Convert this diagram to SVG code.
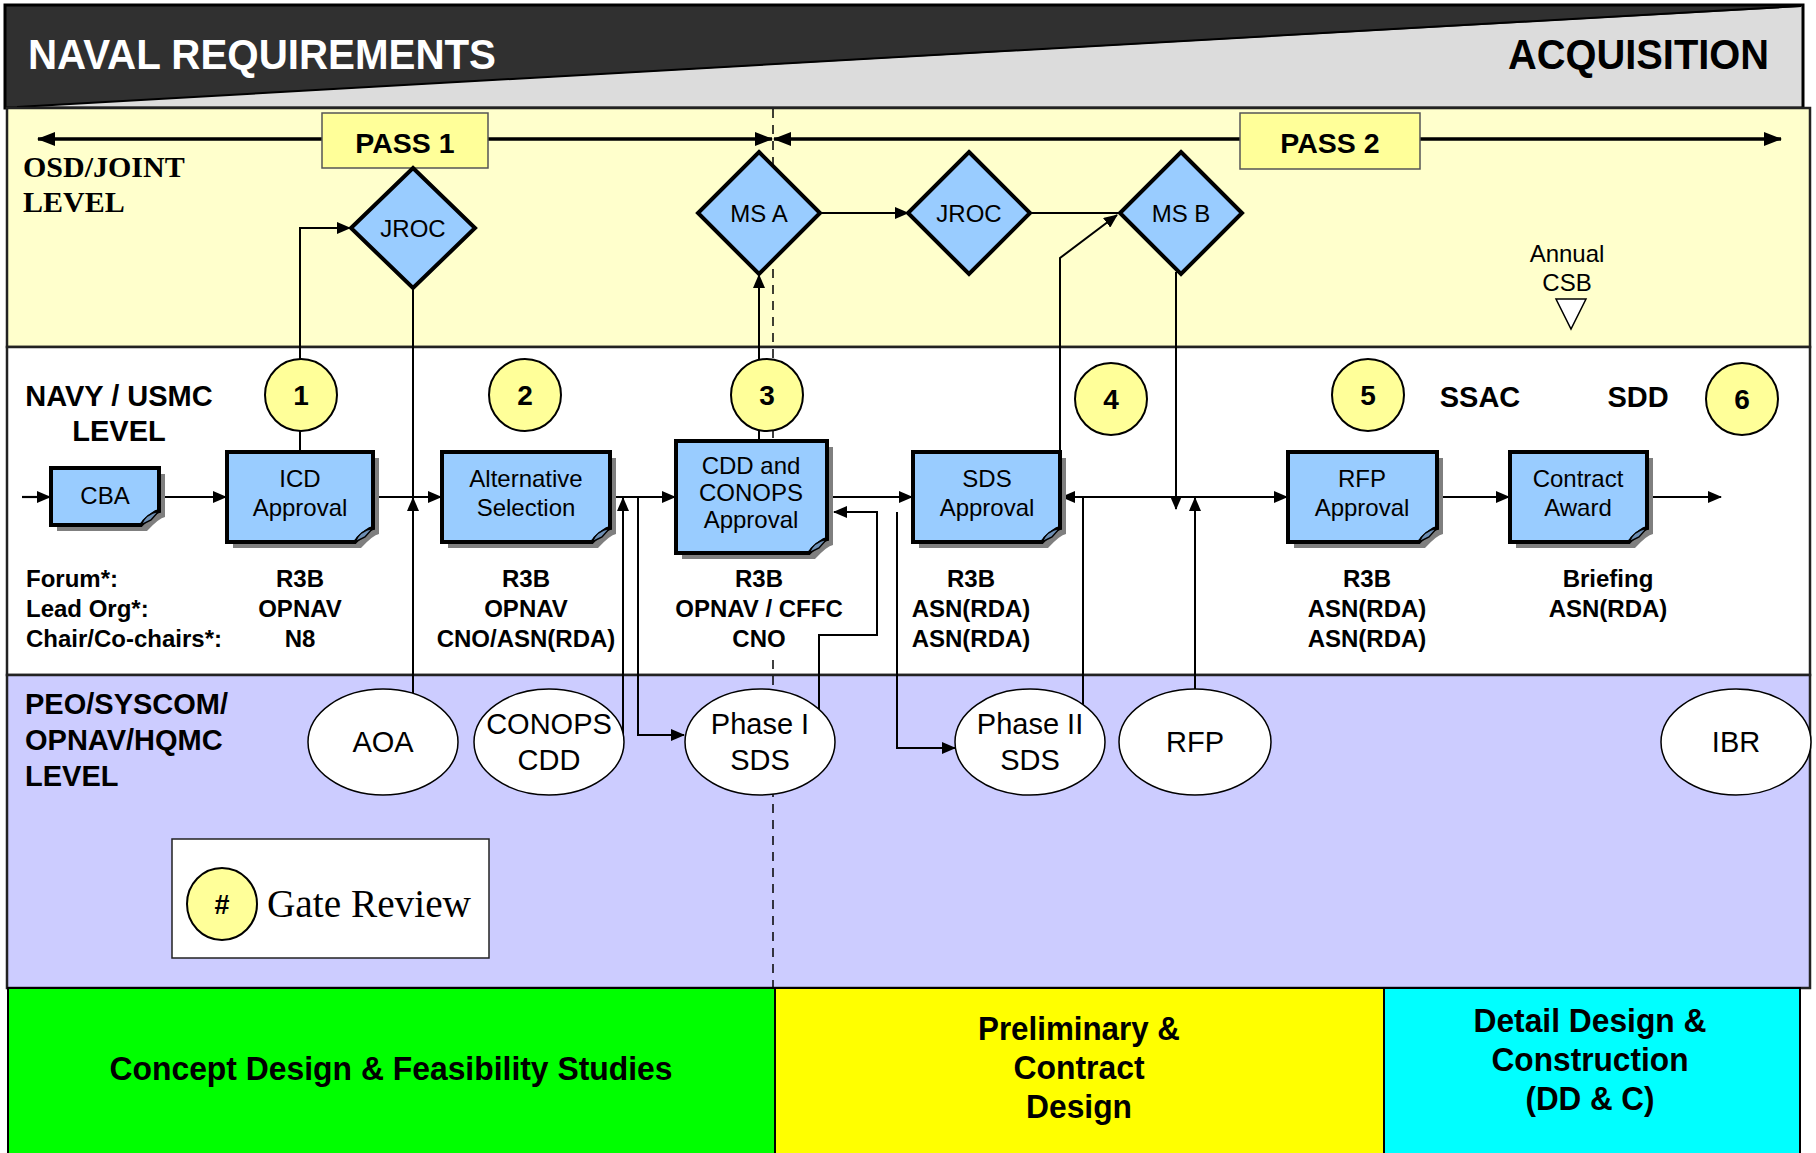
<svg xmlns="http://www.w3.org/2000/svg" width="1816" height="1153" viewBox="0 0 1816 1153">
<style>
.s{font-family:"Liberation Sans",Arial,sans-serif}
.b{font-weight:bold}
.box{fill:#99CCFF;stroke:#000;stroke-width:4;stroke-linejoin:miter}
.sh{fill:#7f7f7f}
.fold{fill:#6d8fb5;stroke:#000;stroke-width:1.5}
.dia{fill:#99CCFF;stroke:#000;stroke-width:4;stroke-linejoin:miter}
.gate{fill:#FFFF99;stroke:#000;stroke-width:2}
.ell{fill:#fff;stroke:#000;stroke-width:1.5}
.c{fill:none;stroke:#000;stroke-width:2}
.cf{fill:none;stroke:#000;stroke-width:2.2}
.pass{fill:none;stroke:#000;stroke-width:3.5}
.dash{stroke:#000;stroke-width:1.5;stroke-dasharray:9,7}
.bt{font-size:24px;text-anchor:middle}
.lb{font-size:24px;font-weight:bold;text-anchor:middle}
.et{font-size:29px;text-anchor:middle}
.gt{font-size:28px;font-weight:bold;text-anchor:middle}
.bot{font-size:33px;font-weight:bold;text-anchor:middle}
</style>
<defs>
<marker id="ah" markerUnits="userSpaceOnUse" markerWidth="14" markerHeight="12" refX="13" refY="6" orient="auto-start-reverse"><path d="M0,0 L14,6 L0,12 Z" fill="#000"/></marker>
<marker id="bh" markerUnits="userSpaceOnUse" markerWidth="18" markerHeight="14" refX="17" refY="7" orient="auto"><path d="M0,0 L18,7 L0,14 Z" fill="#000"/></marker>
</defs>

<!-- Bands -->
<g id="bands">
<rect x="5" y="5" width="1798" height="103" fill="#dcdcdc"/>
<polygon points="5,5 1801,5 1801,7 17,107 5,107" fill="#303030"/>
<line x1="17" y1="107" x2="1801" y2="6" stroke="#000" stroke-width="2"/>
<rect x="5" y="5" width="1798" height="103" fill="none" stroke="#000" stroke-width="3"/>
<rect x="7" y="108" width="1803" height="239" fill="#FFFFCC" stroke="#222" stroke-width="2.5"/>
<rect x="7" y="347" width="1803" height="328" fill="#ffffff" stroke="#222" stroke-width="2.5"/>
<rect x="7" y="675" width="1803" height="313" fill="#CCCCFF" stroke="#222" stroke-width="2.5"/>
<rect x="8" y="988" width="767" height="170" fill="#00FF00" stroke="#000" stroke-width="2"/>
<rect x="775" y="988" width="609" height="170" fill="#FFFF00" stroke="#000" stroke-width="2"/>
<rect x="1384" y="988" width="416" height="170" fill="#00FFFF" stroke="#000" stroke-width="2"/>
</g>

<g id="titles" class="s b">
<text x="28" y="69" font-size="42" fill="#fff" textLength="468" lengthAdjust="spacingAndGlyphs">NAVAL REQUIREMENTS</text>
<text x="1508" y="69" font-size="42" fill="#000" textLength="261" lengthAdjust="spacingAndGlyphs">ACQUISITION</text>
<text x="23" y="177" font-family="'Liberation Serif','Times New Roman',serif" font-size="30" font-weight="bold">OSD/JOINT</text>
<text x="23" y="212" font-family="'Liberation Serif','Times New Roman',serif" font-size="30" font-weight="bold">LEVEL</text>
<text x="119" y="406" font-size="29" text-anchor="middle">NAVY / USMC</text>
<text x="119" y="441" font-size="29" text-anchor="middle">LEVEL</text>
<text x="25" y="714" font-size="29">PEO/SYSCOM/</text>
<text x="25" y="750" font-size="29">OPNAV/HQMC</text>
<text x="25" y="786" font-size="29">LEVEL</text>
<text x="26" y="587" font-size="24">Forum*:</text>
<text x="26" y="617" font-size="24">Lead Org*:</text>
<text x="26" y="647" font-size="24">Chair/Co-chairs*:</text>
<text x="1480" y="407" font-size="29" text-anchor="middle">SSAC</text>
<text x="1638" y="407" font-size="29" text-anchor="middle">SDD</text>
</g>

<!-- dashed divider -->
<g id="divider">
<line class="dash" x1="773" y1="109" x2="773" y2="450"/>
<line class="dash" x1="773" y1="660" x2="773" y2="988"/>
</g>

<!-- Connectors -->
<g id="connectors">
<line class="pass" x1="322" y1="139" x2="38" y2="139" marker-end="url(#bh)"/>
<line class="pass" x1="488" y1="139" x2="772" y2="139" marker-end="url(#bh)"/>
<line class="pass" x1="1240" y1="139" x2="774" y2="139" marker-end="url(#bh)"/>
<line class="pass" x1="1420" y1="139" x2="1781" y2="139" marker-end="url(#bh)"/>

<polyline class="c" points="300,452 300,228 350,228" marker-end="url(#ah)"/>
<line class="c" x1="413" y1="288" x2="413" y2="497"/>
<line class="c" x1="413" y1="693" x2="413" y2="498" marker-end="url(#ah)"/>
<line class="c" x1="759" y1="441" x2="759" y2="275" marker-end="url(#ah)"/>
<line class="c" x1="820" y1="213" x2="908" y2="213" marker-end="url(#ah)"/>
<line class="c" x1="1030" y1="213" x2="1120" y2="213"/>
<polyline class="c" points="1060,452 1060,258 1117,215" marker-end="url(#ah)"/>
<line class="c" x1="1176" y1="272" x2="1176" y2="509" marker-end="url(#ah)"/>
<line class="c" x1="1195" y1="689" x2="1195" y2="498" marker-end="url(#ah)"/>

<line class="cf" x1="22" y1="497" x2="50" y2="497" marker-end="url(#ah)"/>
<line class="cf" x1="165" y1="497" x2="226" y2="497" marker-end="url(#ah)"/>
<line class="cf" x1="379" y1="497" x2="441" y2="497" marker-end="url(#ah)"/>
<line class="cf" x1="616" y1="497" x2="675" y2="497" marker-end="url(#ah)"/>
<line class="cf" x1="833" y1="497" x2="912" y2="497" marker-end="url(#ah)"/>
<line class="cf" x1="1062" y1="497" x2="1287" y2="497" marker-start="url(#ah)" marker-end="url(#ah)"/>
<line class="cf" x1="1443" y1="497" x2="1509" y2="497" marker-end="url(#ah)"/>
<line class="cf" x1="1653" y1="497" x2="1721" y2="497" marker-end="url(#ah)"/>

<line class="c" x1="623" y1="745" x2="623" y2="498" marker-end="url(#ah)"/>
<polyline class="c" points="638,497 638,735 684,735" marker-end="url(#ah)"/>
<polyline class="c" points="819,712 819,635 877,635 877,512 834,512" marker-end="url(#ah)"/>
<polyline class="c" points="897,512 897,748 955,748" marker-end="url(#ah)"/>
<line class="c" x1="1083" y1="705" x2="1083" y2="497"/>
</g>

<!-- Pass boxes -->
<g id="pass1">
<rect x="322" y="113" width="166" height="55" fill="#FFFF99" stroke="#555" stroke-width="1.5"/>
<text class="s b" x="405" y="153" font-size="28.5" text-anchor="middle">PASS 1</text>
</g>
<g id="pass2">
<rect x="1240" y="113" width="180" height="56" fill="#FFFF99" stroke="#555" stroke-width="1.5"/>
<text class="s b" x="1330" y="153" font-size="28.5" text-anchor="middle">PASS 2</text>
</g>

<!-- Diamonds -->
<g id="jroc1"><polygon class="dia" points="413,168 475,228 413,288 351,228"/><text class="s bt" x="413" y="237">JROC</text></g>
<g id="msa"><polygon class="dia" points="759,152 820,213 759,274 698,213"/><text class="s bt" x="759" y="222">MS A</text></g>
<g id="jroc2"><polygon class="dia" points="969,152 1030,213 969,274 908,213"/><text class="s bt" x="969" y="222">JROC</text></g>
<g id="msb"><polygon class="dia" points="1181,152 1242,213 1181,274 1120,213"/><text class="s bt" x="1181" y="222">MS B</text></g>

<g id="csb">
<text class="s bt" x="1567" y="262">Annual</text>
<text class="s bt" x="1567" y="291">CSB</text>
<polygon points="1556,299 1586,299 1571,329" fill="#fff" stroke="#000" stroke-width="1.5"/>
</g>

<!-- Gate circles -->
<g id="gate1"><circle class="gate" cx="301" cy="395" r="36"/><text class="s gt" x="301" y="405">1</text></g>
<g id="gate2"><circle class="gate" cx="525" cy="395" r="36"/><text class="s gt" x="525" y="405">2</text></g>
<g id="gate3"><circle class="gate" cx="767" cy="395" r="36"/><text class="s gt" x="767" y="405">3</text></g>
<g id="gate4"><circle class="gate" cx="1111" cy="399" r="36"/><text class="s gt" x="1111" y="409">4</text></g>
<g id="gate5"><circle class="gate" cx="1368" cy="395" r="36"/><text class="s gt" x="1368" y="405">5</text></g>
<g id="gate6"><circle class="gate" cx="1742" cy="399" r="36"/><text class="s gt" x="1742" y="409">6</text></g>

<!-- Process boxes -->
<g id="cba">
<path class="sh" transform="translate(6,6)" d="M51,468 H159 V511 Q153,512 141,525 H51 Z"/>
<path class="box" d="M51,468 H159 V511 Q153,512 141,525 H51 Z"/>
<path class="fold" d="M141,525 Q145,514 159,511 L151,520 Z"/>
<text class="s bt" x="105" y="504">CBA</text>
</g>
<g id="icd">
<path class="sh" transform="translate(6,6)" d="M227,452 H373 V528 Q367,529 355,542 H227 Z"/>
<path class="box" d="M227,452 H373 V528 Q367,529 355,542 H227 Z"/>
<path class="fold" d="M355,542 Q359,531 373,528 L365,537 Z"/>
<text class="s bt" x="300" y="487">ICD</text>
<text class="s bt" x="300" y="516">Approval</text>
<text class="s lb" x="300" y="587">R3B</text>
<text class="s lb" x="300" y="617">OPNAV</text>
<text class="s lb" x="300" y="647">N8</text>
</g>
<g id="alt">
<path class="sh" transform="translate(6,6)" d="M442,452 H610 V528 Q604,529 592,542 H442 Z"/>
<path class="box" d="M442,452 H610 V528 Q604,529 592,542 H442 Z"/>
<path class="fold" d="M592,542 Q596,531 610,528 L602,537 Z"/>
<text class="s bt" x="526" y="487">Alternative</text>
<text class="s bt" x="526" y="516">Selection</text>
<text class="s lb" x="526" y="587">R3B</text>
<text class="s lb" x="526" y="617">OPNAV</text>
<text class="s lb" x="526" y="647">CNO/ASN(RDA)</text>
</g>
<g id="cdd">
<path class="sh" transform="translate(6,6)" d="M676,441 H827 V539 Q821,540 809,553 H676 Z"/>
<path class="box" d="M676,441 H827 V539 Q821,540 809,553 H676 Z"/>
<path class="fold" d="M809,553 Q813,542 827,539 L819,548 Z"/>
<text class="s bt" x="751" y="474" font-size="21.5">CDD and</text>
<text class="s bt" x="751" y="501" font-size="21.5">CONOPS</text>
<text class="s bt" x="751" y="528" font-size="21.5">Approval</text>
<text class="s lb" x="759" y="587">R3B</text>
<text class="s lb" x="759" y="617">OPNAV / CFFC</text>
<text class="s lb" x="759" y="647">CNO</text>
</g>
<g id="sds">
<path class="sh" transform="translate(6,6)" d="M913,452 H1060 V528 Q1054,529 1042,542 H913 Z"/>
<path class="box" d="M913,452 H1060 V528 Q1054,529 1042,542 H913 Z"/>
<path class="fold" d="M1042,542 Q1046,531 1060,528 L1052,537 Z"/>
<text class="s bt" x="987" y="487">SDS</text>
<text class="s bt" x="987" y="516">Approval</text>
<text class="s lb" x="971" y="587">R3B</text>
<text class="s lb" x="971" y="617">ASN(RDA)</text>
<text class="s lb" x="971" y="647">ASN(RDA)</text>
</g>
<g id="rfpa">
<path class="sh" transform="translate(6,6)" d="M1288,452 H1437 V528 Q1431,529 1419,542 H1288 Z"/>
<path class="box" d="M1288,452 H1437 V528 Q1431,529 1419,542 H1288 Z"/>
<path class="fold" d="M1419,542 Q1423,531 1437,528 L1429,537 Z"/>
<text class="s bt" x="1362" y="487">RFP</text>
<text class="s bt" x="1362" y="516">Approval</text>
<text class="s lb" x="1367" y="587">R3B</text>
<text class="s lb" x="1367" y="617">ASN(RDA)</text>
<text class="s lb" x="1367" y="647">ASN(RDA)</text>
</g>
<g id="contract">
<path class="sh" transform="translate(6,6)" d="M1510,452 H1647 V528 Q1641,529 1629,542 H1510 Z"/>
<path class="box" d="M1510,452 H1647 V528 Q1641,529 1629,542 H1510 Z"/>
<path class="fold" d="M1629,542 Q1633,531 1647,528 L1639,537 Z"/>
<text class="s bt" x="1578" y="487">Contract</text>
<text class="s bt" x="1578" y="516">Award</text>
<text class="s lb" x="1608" y="587">Briefing</text>
<text class="s lb" x="1608" y="617">ASN(RDA)</text>
</g>

<!-- Ellipses -->
<g id="aoa"><ellipse class="ell" cx="383" cy="742" rx="75" ry="53"/><text class="s et" x="383" y="752">AOA</text></g>
<g id="conops"><ellipse class="ell" cx="549" cy="742" rx="75" ry="53"/><text class="s et" x="549" y="734">CONOPS</text><text class="s et" x="549" y="770">CDD</text></g>
<g id="phase1"><ellipse class="ell" cx="760" cy="742" rx="75" ry="53"/><text class="s et" x="760" y="734">Phase I</text><text class="s et" x="760" y="770">SDS</text></g>
<g id="phase2"><ellipse class="ell" cx="1030" cy="742" rx="75" ry="53"/><text class="s et" x="1030" y="734">Phase II</text><text class="s et" x="1030" y="770">SDS</text></g>
<g id="rfp"><ellipse class="ell" cx="1195" cy="742" rx="76" ry="53"/><text class="s et" x="1195" y="752">RFP</text></g>
<g id="ibr"><ellipse class="ell" cx="1736" cy="742" rx="75" ry="53"/><text class="s et" x="1736" y="752">IBR</text></g>

<!-- Legend -->
<g id="legend">
<rect x="172" y="839" width="317" height="119" fill="#fff" stroke="#222" stroke-width="1.5"/>
<ellipse class="gate" cx="222" cy="904" rx="35" ry="36"/>
<text class="s" x="222" y="914" font-size="27" font-weight="bold" text-anchor="middle">#</text>
<text x="267" y="917" font-family="'Liberation Serif','Times New Roman',serif" font-size="39" textLength="204" lengthAdjust="spacingAndGlyphs">Gate Review</text>
</g>

<!-- Phase labels -->
<g id="phases" class="s">
<text class="bot" x="391" y="1080" textLength="563" lengthAdjust="spacingAndGlyphs">Concept Design &amp; Feasibility Studies</text>
<text class="bot" x="1079" y="1040" textLength="202" lengthAdjust="spacingAndGlyphs">Preliminary &amp;</text>
<text class="bot" x="1079" y="1079" textLength="131" lengthAdjust="spacingAndGlyphs">Contract</text>
<text class="bot" x="1079" y="1118" textLength="106" lengthAdjust="spacingAndGlyphs">Design</text>
<text class="bot" x="1590" y="1032" textLength="233" lengthAdjust="spacingAndGlyphs">Detail Design &amp;</text>
<text class="bot" x="1590" y="1071" textLength="197" lengthAdjust="spacingAndGlyphs">Construction</text>
<text class="bot" x="1590" y="1110" textLength="129" lengthAdjust="spacingAndGlyphs">(DD &amp; C)</text>
</g>
</svg>
